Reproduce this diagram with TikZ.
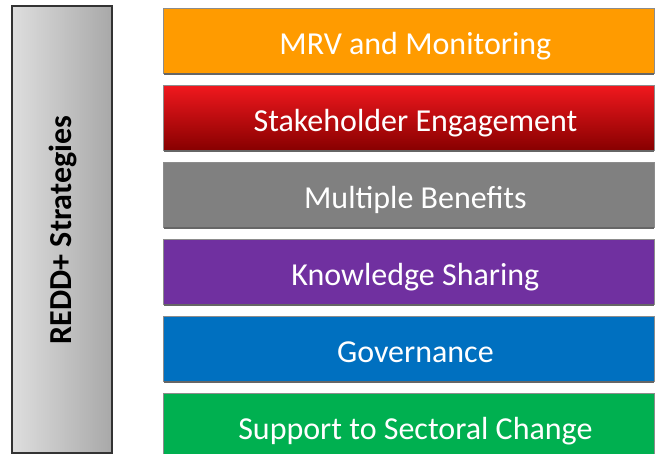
\documentclass[tikz,border=0pt]{standalone}
\usepackage{fontspec}
\setmainfont{Carlito}
\usepackage{tikz}
\usetikzlibrary{positioning}

\definecolor{mrvorange}{HTML}{FF9B00}
\definecolor{stakered}{HTML}{DC0000}
\definecolor{benegray}{HTML}{808080}
\definecolor{knowpurple}{HTML}{7030A0}
\definecolor{govblue}{HTML}{0070C0}
\definecolor{sectgreen}{HTML}{00B050}

\tikzset{
	stratbox/.style={draw=black!45, line width=0.8pt, text=white, minimum width=491pt, minimum height=65pt, inner sep=0pt, text height=34pt, text depth=6pt, anchor=north west, font=\fontsize{32}{38}\selectfont},
	orangefill/.style={fill=mrvorange},
	redfill/.style={top color={rgb,255:red,240;green,24;blue,30}, middle color=stakered, bottom color={rgb,255:red,135;green,0;blue,0}},
	grayfill/.style={fill=benegray},
	purplefill/.style={fill=knowpurple},
	bluefill/.style={fill=govblue},
	greenfill/.style={fill=sectgreen}
}

\begin{document}
\begin{tikzpicture}[x=1pt, y=-1pt]
	\useasboundingbox (0,0) rectangle (655,454);
	% side bar
	\draw[left color=black!13, right color=black!34, draw=black!80, line width=1.2pt] (12,6) rectangle (112,453);
	\node[rotate=90, font=\fontsize{32}{38}\selectfont\bfseries] (side) at (63,230) {REDD+ Strategies};
	% strategy boxes
	\foreach \i/\sty/\txt in {1/orangefill/MRV and Monitoring, 2/redfill/Stakeholder Engagement, 3/grayfill/Multiple Benefits, 4/purplefill/Knowledge Sharing, 5/bluefill/Governance, 6/greenfill/Support to Sectoral Change}
	{
		\pgfmathsetmacro{\yi}{8+77*(\i-1)};
		\node[stratbox, \sty] (s\i) at (163,\yi) {\hspace*{13pt}\txt};
		\draw[black!60, line width=2.5pt] ([xshift=1pt]s\i.south west) -- ([xshift=-1pt]s\i.south east);
	}
\end{tikzpicture}
\end{document}
